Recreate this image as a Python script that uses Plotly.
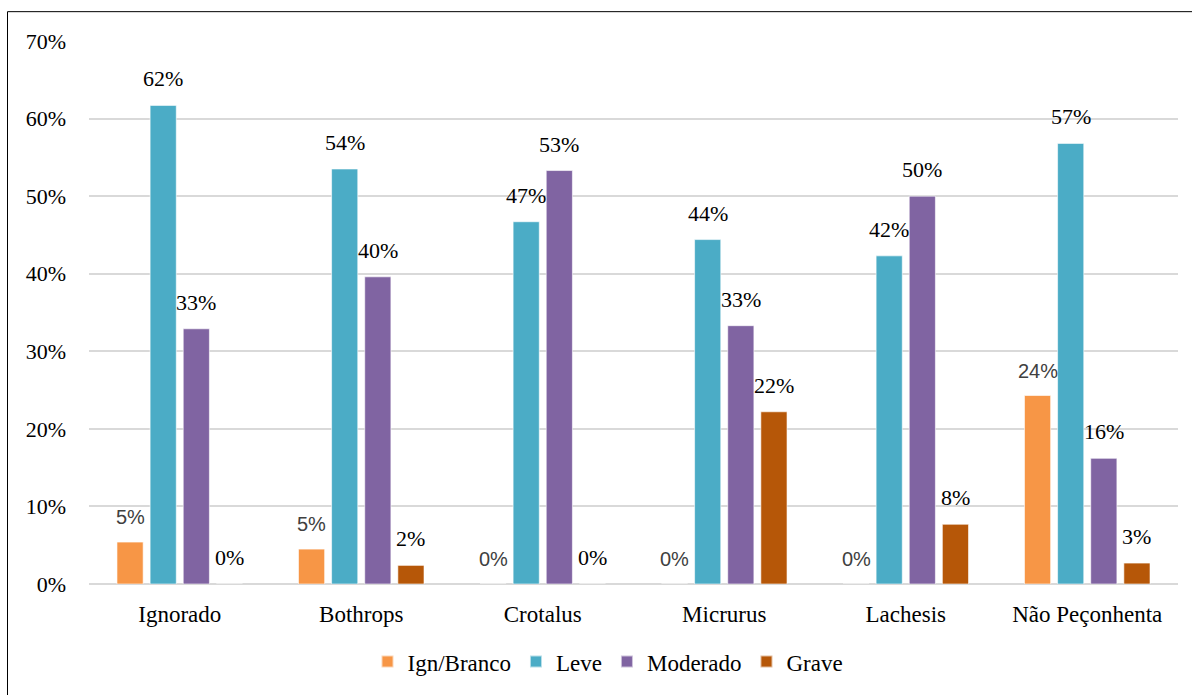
import plotly.graph_objects as go

categories = ["Ignorado", "Bothrops", "Crotalus", "Micrurus", "Lachesis", "Não Peçonhenta"]
series_names = ["Ign/Branco", "Leve", "Moderado", "Grave"]
ign_branco = [5.4, 4.5, 0.0, 0.0, 0.0, 24.3]
leve = [61.7, 53.5, 46.7, 44.4, 42.3, 56.8]
moderado = [32.9, 39.6, 53.3, 33.3, 50.0, 16.2]
grave = [0.0, 2.4, 0.0, 22.2, 7.7, 2.7]
y_ticks = [0, 10, 20, 30, 40, 50, 60, 70]
y_tick_labels = ["0%", "10%", "20%", "30%", "40%", "50%", "60%", "70%"]

series_values = [ign_branco, leve, moderado, grave]
colors = ["#F79646", "#4BACC6", "#8064A2", "#B65708"]
SERIF = "Liberation Serif"
SANS = "Liberation Sans"
label_fonts = [
    dict(family=SANS, size=20, color="#404040"),
    dict(family=SERIF, size=22, color="#000000"),
    dict(family=SERIF, size=22, color="#000000"),
    dict(family=SERIF, size=22, color="#000000"),
]

bargap = 0.27
bargroupgap = 0.21
n = len(series_names)
slot = (1 - bargap) / n
xs = list(range(len(categories)))


def pct_label(v):
    return f"{int(v + 0.5)}%"


fig = go.Figure()
annotations = []
for k, (name, vals, col) in enumerate(zip(series_names, series_values, colors)):
    fig.add_trace(go.Bar(
        x=xs, y=vals, name=name,
        marker=dict(color=col, line=dict(color="rgba(255,255,255,0.6)", width=1)),
        hoverinfo="skip",
    ))
    off = (k - (n - 1) / 2) * slot
    for i, v in enumerate(vals):
        annotations.append(dict(
            x=i + off, y=v, xref="x", yref="y",
            text=pct_label(v), showarrow=False,
            yanchor="bottom", xanchor="center", yshift=12,
            font=label_fonts[k],
        ))

W, H = 1192, 695
L, R, T, B = 89, 14, 41, 108
pw, ph = W - L - R, H - T - B


def px_to_paper_x(px):
    return (px - L) / pw


def px_to_paper_y(py):
    return (H - B - py) / ph


fig.add_shape(type="rect", xref="paper", yref="paper",
              x0=px_to_paper_x(7.5), y0=px_to_paper_y(720), x1=px_to_paper_x(1230), y1=px_to_paper_y(11.5),
              line=dict(color="#000000", width=1), layer="below")

fig.update_layout(
    width=W, height=H,
    margin=dict(l=L, r=R, t=T, b=B),
    paper_bgcolor="white", plot_bgcolor="white",
    barmode="group", bargap=bargap, bargroupgap=bargroupgap,
    font=dict(family=SERIF, size=22, color="#000000"),
    annotations=annotations,
    showlegend=True,
    legend=dict(orientation="h", x=px_to_paper_x(608), xanchor="center", y=px_to_paper_y(665), yanchor="middle",
                font=dict(family=SERIF, size=23, color="#000000"),
                itemsizing="constant", traceorder="normal", itemwidth=30),
    xaxis=dict(
        tickmode="array", tickvals=xs, ticktext=categories,
        range=[-0.5, len(categories) - 0.5],
        showgrid=False, zeroline=False, showline=False, ticks="",
        ticklabelstandoff=14,
        tickfont=dict(family=SERIF, size=23, color="#000000"),
    ),
    yaxis=dict(
        range=[0, 70], tickmode="array", tickvals=y_ticks, ticktext=y_tick_labels,
        showgrid=True, gridcolor="#D9D9D9", gridwidth=1.5,
        zeroline=True, zerolinecolor="#D9D9D9", zerolinewidth=1.5,
        showline=False, ticks="", ticklabelstandoff=22,
        tickfont=dict(family=SERIF, size=22, color="#000000"),
    ),
)

fig.write_html("out.html", config={"displayModeBar": False},
               post_script="document.body.style.margin='0';")
